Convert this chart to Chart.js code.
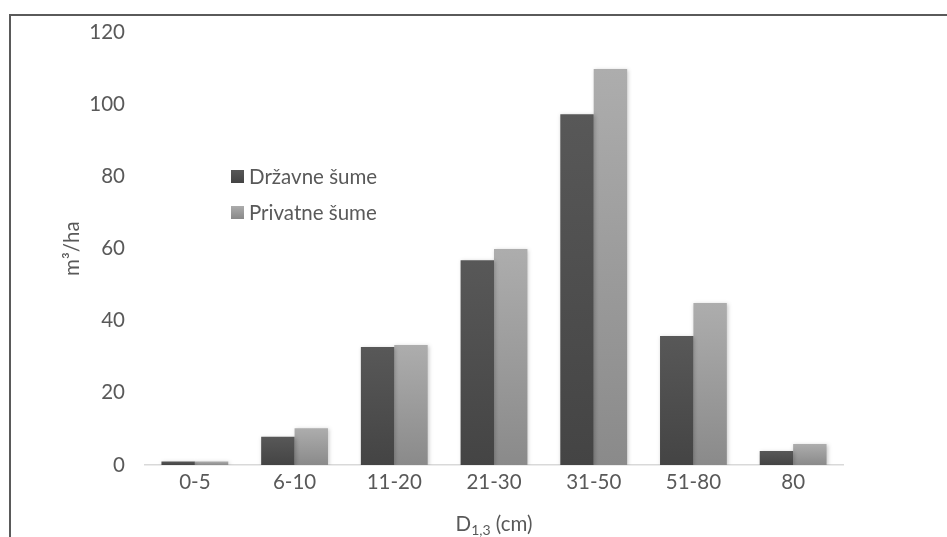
<!DOCTYPE html>
<html>
<head>
<meta charset="utf-8">
<script src="https://cdn.jsdelivr.net/npm/chart.js@4/dist/chart.umd.min.js"></script>
<style>
  html, body { margin: 0; padding: 0; background: #ffffff; }
  #wrap { position: relative; width: 947px; height: 537px; overflow: hidden; }
  #frame { position: absolute; left: 9px; top: 14px; width: 960px; height: 560px;
           border-left: 2px solid #5a5a5a; border-top: 2px solid #5a5a5a; }
  #c { position: absolute; left: 0; top: 0; }
</style>
</head>
<body>
<div id="wrap">
  <div id="frame"></div>
  <canvas id="c" width="947" height="537"></canvas>
</div>
<script>
// Diameter classes and standing volume per hectare
const categories = ['0-5', '6-10', '11-20', '21-30', '31-50', '51-80', '80'];
const drzavneSume = [1, 7.8, 32.7, 56.8, 97.3, 35.8, 3.9];
const privatneSume = [1, 10.2, 33.3, 59.9, 109.8, 44.9, 5.8];
const seriesNames = ['Državne šume', 'Privatne šume'];
const yTitle = 'm³/ha';
const xTitleMain = 'D';
const xTitleSub = '1,3';
const xTitleRest = ' (cm)';

const FONT = 'Lato, "Open Sans", sans-serif';
const FS = 20.5;
const TEXT = '#595959';

// vertical shading per bar, from its top to the baseline
const shades = [
  ['#585858', '#444444'],
  ['#adadad', '#8a8a8a']
];
function barFill(ds) {
  return function (ctx) {
    const chart = ctx.chart;
    const area = chart.chartArea;
    if (!area || ctx.type !== 'data') return shades[ds][0];
    const y = chart.scales.y;
    const top = y.getPixelForValue(ctx.raw);
    const base = y.getPixelForValue(0);
    const g = chart.ctx.createLinearGradient(0, top, 0, base);
    g.addColorStop(0, shades[ds][0]);
    g.addColorStop(1, shades[ds][1]);
    return g;
  };
}

// soft drop shadow under the bars
const barShadow = {
  id: 'barShadow',
  beforeDatasetsDraw(chart) {
    const c = chart.ctx;
    c.save();
    c.shadowColor = 'rgba(0,0,0,0.22)';
    c.shadowBlur = 4;
    c.shadowOffsetX = 1;
    c.shadowOffsetY = 1;
  },
  afterDatasetsDraw(chart) { chart.ctx.restore(); }
};

// legend placed inside the plot, left of the tall bars
const innerLegend = {
  id: 'innerLegend',
  afterDraw(chart) {
    const c = chart.ctx;
    c.save();
    c.font = FS + 'px ' + FONT;
    c.textBaseline = 'middle';
    const rows = [176, 212];
    chart.data.datasets.forEach((ds, i) => {
      const cy = rows[i];
      const g = c.createLinearGradient(0, cy - 6.5, 0, cy + 6.5);
      g.addColorStop(0, shades[i][0]);
      g.addColorStop(1, shades[i][1]);
      c.fillStyle = g;
      c.fillRect(231, cy - 6, 13, 13);
      c.fillStyle = TEXT;
      c.fillText(ds.label, 249, cy + 1);
    });
    c.restore();
  }
};

// x axis title with subscript
const xTitle = {
  id: 'xTitle',
  afterDraw(chart) {
    const c = chart.ctx;
    const area = chart.chartArea;
    c.save();
    c.fillStyle = TEXT;
    c.textBaseline = 'alphabetic';
    const big = FS + 'px ' + FONT, small = '14px ' + FONT;
    c.font = big; const w1 = c.measureText(xTitleMain).width; const w3 = c.measureText(xTitleRest).width;
    c.font = small; const w2 = c.measureText(xTitleSub).width;
    const total = w1 + w2 + w3;
    let x = (area.left + area.right) / 2 - total / 2;
    const y = 531;
    c.font = big; c.fillText(xTitleMain, x, y); x += w1;
    c.font = small; c.fillText(xTitleSub, x, y + 4); x += w2;
    c.font = big; c.fillText(xTitleRest, x, y);
    c.restore();
  }
};

new Chart(document.getElementById('c'), {
  type: 'bar',
  data: {
    labels: categories,
    datasets: [
      { label: seriesNames[0], data: drzavneSume, backgroundColor: barFill(0) },
      { label: seriesNames[1], data: privatneSume, backgroundColor: barFill(1) }
    ]
  },
  options: {
    responsive: false,
    animation: false,
    devicePixelRatio: 1,
    layout: { padding: { top: 32, right: 104, bottom: 0, left: 0 } },
    datasets: { bar: { categoryPercentage: 0.67, barPercentage: 1.0 } },
    plugins: {
      legend: { display: false },
      tooltip: { enabled: false }
    },
    scales: {
      x: {
        grid: { display: false, drawTicks: false },
        border: { display: true, color: '#d9d9d9', width: 1.5 },
        ticks: { color: TEXT, font: { family: FONT, size: FS }, padding: 5 },
        afterFit(scale) { scale.height = 72; }
      },
      y: {
        min: 0, max: 120,
        ticks: { stepSize: 20, color: TEXT, font: { family: FONT, size: FS }, padding: 20 },
        grid: { display: false, drawTicks: false },
        border: { display: false },
        title: { display: true, text: yTitle, color: TEXT, font: { family: FONT, size: FS }, padding: { top: 60, bottom: 0 } },
        afterFit(scale) { scale.width = 145; }
      }
    }
  },
  plugins: [barShadow, innerLegend, xTitle]
});
</script>
</body>
</html>
